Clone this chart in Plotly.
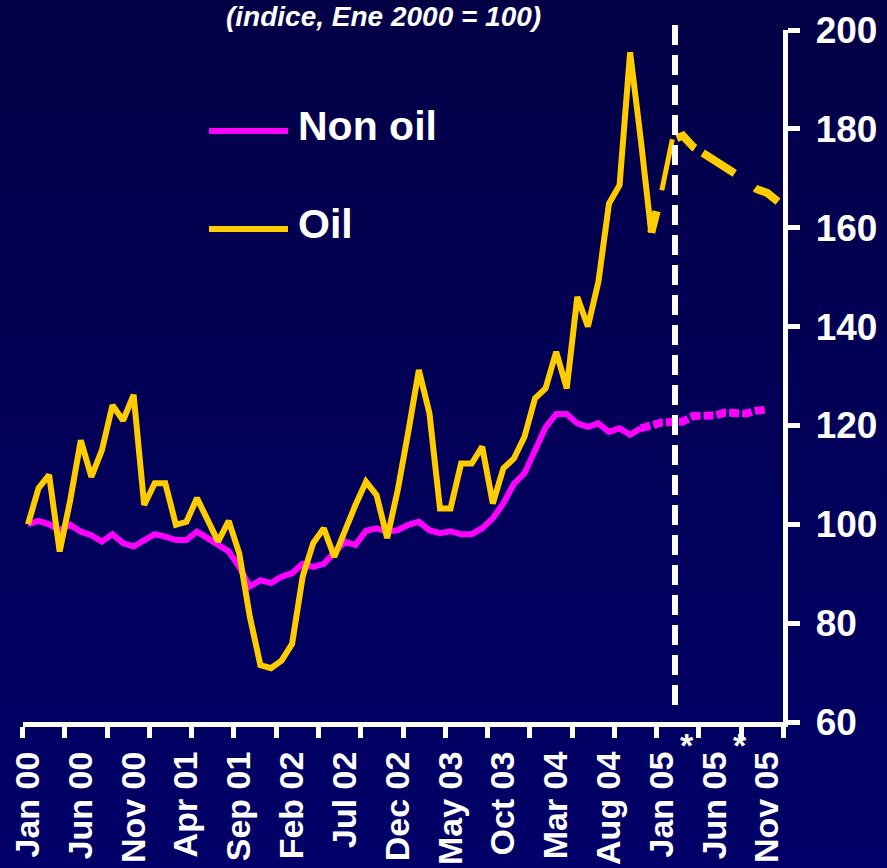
import base64
import plotly.graph_objects as go

# ---------------- data (monthly index, Jan 2000 = 100) ----------------
month_names = ["Jan", "Feb", "Mar", "Apr", "May", "Jun",
               "Jul", "Aug", "Sep", "Oct", "Nov", "Dec"]
categories = [f"{month_names[i % 12]} {i // 12:02d}" for i in range(72)]  # Jan 00 .. Dec 05

tick_labels = ["Jan 00", "Jun 00", "Nov 00", "Apr 01", "Sep 01", "Feb 02", "Jul 02",
               "Dec 02", "May 03", "Oct 03", "Mar 04", "Aug 04", "Jan 05", "Jun 05", "Nov 05"]

non_oil_actual = [100.0, 100.7, 100.0, 98.8, 99.9, 98.5, 97.8, 96.5, 98.0, 96.2,
                  95.5, 96.8, 98.0, 97.5, 96.8, 96.8, 98.5, 97.2, 95.8, 94.5,
                  91.4, 87.4, 88.7, 88.1, 89.4, 90.1, 92.0, 91.4, 92.0, 94.1,
                  96.5, 95.8, 98.7, 99.2, 98.5, 98.8, 99.9, 100.5, 98.8, 98.2,
                  98.6, 98.0, 98.0, 99.2, 101.2, 104.2, 108.2, 110.3, 115.0, 119.6,
                  122.3, 122.3, 120.4, 119.7, 120.4, 118.7, 119.4, 118.1, 119.4]   # Jan 00 .. Nov 04
non_oil_forecast = [119.4, 120.0, 120.6, 120.7, 120.8, 121.9, 122.0, 122.0,
                    122.6, 122.6, 122.4, 123.0, 123.2]                           # Nov 04 .. Nov 05

oil_actual = [100.0, 107.3, 110.0, 94.5, 104.9, 117.0, 109.6, 115.0, 124.1, 121.0,
              126.2, 103.9, 108.3, 108.3, 99.9, 100.5, 105.3, 101.2, 96.5, 100.7,
              94.1, 81.3, 71.5, 70.9, 72.4, 75.8, 89.4, 96.2, 99.2, 93.4,
              98.8, 103.9, 108.6, 105.9, 97.2, 106.9, 118.7, 131.2, 122.5, 103.2,
              103.2, 112.3, 112.3, 115.7, 104.2, 111.3, 113.3, 117.7, 125.5, 127.5,
              134.9, 127.5, 146.0, 140.0, 149.1, 164.9, 168.6, 195.5, 178.0, 159.0]  # Jan 00 .. Dec 04
oil_actual_2005 = [167.6, 177.9]                                                   # Jan 05 .. Feb 05
oil_forecast = [159.0, 167.5, 177.8, 178.6, 176.3, 175.0, 173.5, 172.0,
                170.8, 169.5, 167.8, 167.0, 165.3]                                 # Dec 04 .. Dec 05

label_every = 5          # a label every 5 months
tick_every = 4           # a tick mark every 4 months (between categories)
forecast_split = 61.25   # dashed vertical separator (category units)

# ---------------- styling ----------------
W, H = 887, 868
WHITE = "#FFFFFF"
MAGENTA = "#FF00FF"
GOLD = "#FFCC00"
FONT = "Arial, Liberation Sans, sans-serif"

x_left_px, x_right_px = 22.7, 783.3
y_top_px, y_bot_px = 30.0, 722.0
xdom = [x_left_px / W, x_right_px / W]
ydom = [1 - y_bot_px / H, 1 - y_top_px / H]
n_cat = len(categories)
x_range = [-0.5, n_cat - 0.5]


def px_x(px):
    return px / W


def px_y(py):
    return 1 - py / H


fig = go.Figure()

start_nf = len(non_oil_actual) - 1
start_of = len(oil_actual) - 1
x_non_oil = list(range(len(non_oil_actual)))
x_non_oil_f = list(range(start_nf, start_nf + len(non_oil_forecast)))
x_oil = list(range(len(oil_actual)))
x_oil_2005 = list(range(len(oil_actual), len(oil_actual) + len(oil_actual_2005)))
x_oil_f = list(range(start_of, start_of + len(oil_forecast)))

fig.add_trace(go.Scatter(x=x_non_oil_f, y=non_oil_forecast, mode="lines", name="Non oil (f)",
                         line=dict(color=MAGENTA, width=8, dash="10px,3px"),
                         showlegend=False, hoverinfo="skip"))
fig.add_trace(go.Scatter(x=x_non_oil, y=non_oil_actual, mode="lines", name="Non oil",
                         line=dict(color=MAGENTA, width=6), showlegend=False))
fig.add_trace(go.Scatter(x=x_oil_f, y=oil_forecast, mode="lines", name="Oil (f)",
                         line=dict(color=GOLD, width=8,
                                   dash="22px,78px,24px,9px,38px,25px,40px"),
                         showlegend=False, hoverinfo="skip"))
fig.add_trace(go.Scatter(x=x_oil, y=oil_actual, mode="lines", name="Oil",
                         line=dict(color=GOLD, width=6), showlegend=False))
fig.add_trace(go.Scatter(x=x_oil_2005, y=oil_actual_2005, mode="lines", name="Oil 2005",
                         line=dict(color=GOLD, width=5), showlegend=False))

# background gradient
svg = (f'<svg xmlns="http://www.w3.org/2000/svg" width="{W}" height="{H}" '
       f'viewBox="0 0 {W} {H}" preserveAspectRatio="none">'
       '<defs><linearGradient id="g" x1="0" y1="0" x2="0" y2="1">'
       '<stop offset="0" stop-color="#030046"/>'
       '<stop offset="1" stop-color="#000068"/>'
       '</linearGradient></defs>'
       f'<rect width="{W}" height="{H}" fill="url(#g)"/></svg>')
bg_src = "data:image/svg+xml;base64," + base64.b64encode(svg.encode()).decode()

# vertical forecast separator (paper coords computed from the category scale)
sep_x = xdom[0] + (forecast_split - x_range[0]) / (x_range[1] - x_range[0]) * (xdom[1] - xdom[0])
shapes = [
    dict(type="line", xref="paper", yref="paper", x0=sep_x, x1=sep_x,
         y0=px_y(25), y1=px_y(712), line=dict(color=WHITE, width=6, dash="20px,10px")),
    # legend samples
    dict(type="line", xref="paper", yref="paper", x0=px_x(209), x1=px_x(288),
         y0=px_y(131), y1=px_y(131), line=dict(color=MAGENTA, width=6)),
    dict(type="line", xref="paper", yref="paper", x0=px_x(209), x1=px_x(288),
         y0=px_y(229), y1=px_y(229), line=dict(color=GOLD, width=6)),
]

annotations = [
    dict(text="<b><i>(indice, Ene 2000 = 100)</i></b>", xref="paper", yref="paper",
         x=px_x(383), y=px_y(16), xanchor="center", yanchor="middle", showarrow=False,
         font=dict(family=FONT, size=28, color=WHITE)),
    dict(text="<b>Non oil</b>", xref="paper", yref="paper", x=px_x(296), y=px_y(126),
         xanchor="left", yanchor="middle", showarrow=False,
         font=dict(family=FONT, size=41, color=WHITE)),
    dict(text="<b>Oil</b>", xref="paper", yref="paper", x=px_x(296), y=px_y(223.5),
         xanchor="left", yanchor="middle", showarrow=False,
         font=dict(family=FONT, size=41, color=WHITE)),
    dict(text="<b>*</b>", xref="paper", yref="paper", x=px_x(687), y=px_y(745),
         xanchor="center", yanchor="middle", showarrow=False,
         font=dict(family=FONT, size=34, color=WHITE)),
    dict(text="<b>*</b>", xref="paper", yref="paper", x=px_x(740), y=px_y(745),
         xanchor="center", yanchor="middle", showarrow=False,
         font=dict(family=FONT, size=34, color=WHITE)),
]

label_vals = list(range(0, n_cat, label_every))[:len(tick_labels)]
minor_vals = [x_range[0] + k * tick_every for k in range(int((x_range[1] - x_range[0]) / tick_every) + 1)]

fig.update_layout(
    width=W, height=H,
    margin=dict(l=0, r=0, t=0, b=0),
    paper_bgcolor="#000058",
    plot_bgcolor="rgba(0,0,0,0)",
    images=[dict(source=bg_src, xref="paper", yref="paper", x=0, y=1, sizex=1, sizey=1,
                 xanchor="left", yanchor="top", sizing="stretch", layer="below")],
    shapes=shapes,
    annotations=annotations,
    showlegend=False,
    xaxis=dict(
        domain=xdom, range=x_range, automargin=False,
        showgrid=False, zeroline=False,
        showline=True, linecolor=WHITE, linewidth=5,
        tickmode="array", tickvals=label_vals, ticktext=[f"<b>{t}</b>" for t in tick_labels],
        ticks="outside", ticklen=0, tickwidth=0, tickcolor=WHITE,
        tickangle=-90, ticklabelstandoff=11,
        tickfont=dict(family=FONT, size=34, color=WHITE),
        minor=dict(tickmode="array", tickvals=minor_vals, ticks="outside",
                   ticklen=11, tickwidth=5, tickcolor=WHITE, showgrid=False),
    ),
    yaxis=dict(
        domain=ydom, range=[60, 200], automargin=False, side="right",
        showgrid=False, zeroline=False,
        showline=True, linecolor=WHITE, linewidth=5,
        tickmode="array", tickvals=list(range(60, 201, 20)),
        ticktext=[f"<b>{v}</b>" for v in range(60, 201, 20)],
        ticks="outside", ticklen=12, tickwidth=5, tickcolor=WHITE,
        ticklabelstandoff=8,
        tickfont=dict(family=FONT, size=37, color=WHITE),
    ),
)

fig.write_html(
    "out.html",
    config={"displayModeBar": False},
    post_script="document.body.style.margin='0';document.body.style.padding='0';"
                "document.body.style.background='#000058';document.body.style.overflow='hidden';",
)
